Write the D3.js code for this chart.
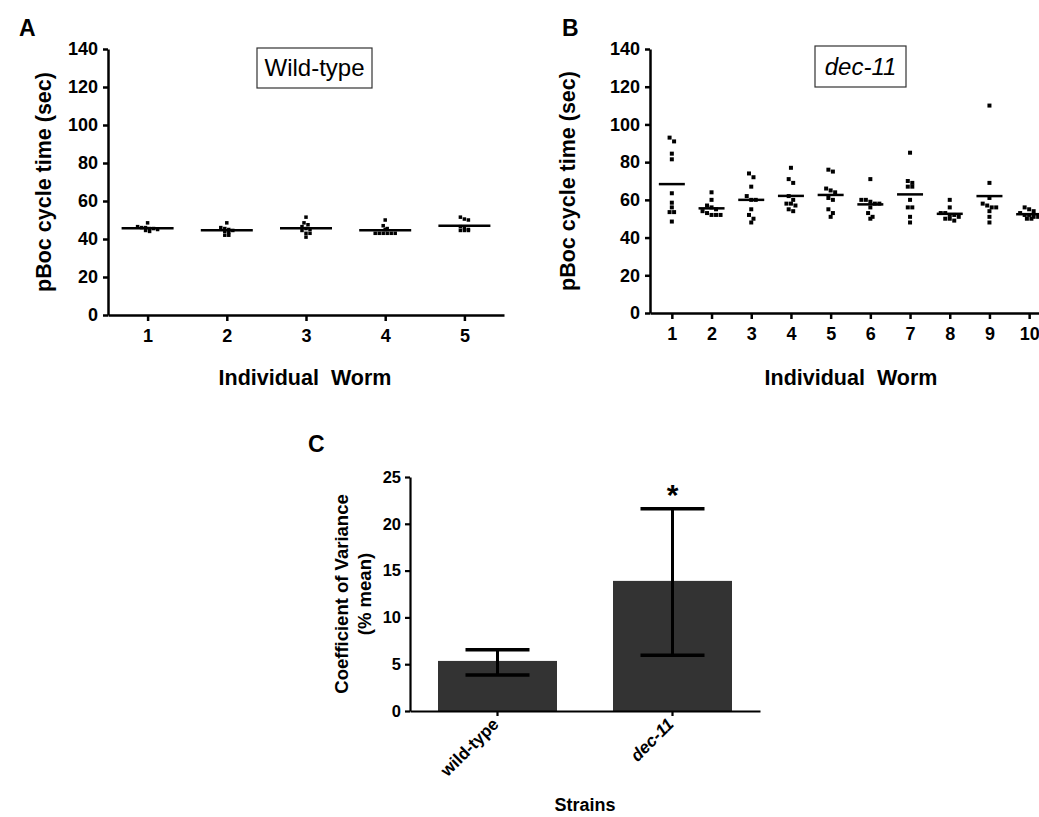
<!DOCTYPE html>
<html>
<head>
<meta charset="utf-8">
<script src="https://cdn.jsdelivr.net/npm/d3@7/dist/d3.min.js"></script>
<style>
  body { margin: 0; background: #fff; }
  svg { display: block; font-family: "Liberation Sans", Arial, sans-serif; }
  .axis path, .axis line { stroke: #000; stroke-width: 2.5; }
  .axis text { font-weight: bold; fill: #000; font-family: "Liberation Sans", Arial, sans-serif; }
</style>
</head>
<body>
<svg id="fig" width="1039" height="817"></svg>
<script>
// ---- data ----
const yTicksAB = [0, 20, 40, 60, 80, 100, 120, 140];
const wormsWT = [1, 2, 3, 4, 5];
const wildType = [
  [48.5, 46.5, 46, 46, 45.5, 45.5, 45, 44.5, 44],
  [48.5, 46, 45.5, 45, 44.5, 44, 43.5, 42, 42],
  [51.5, 48.5, 47.5, 46.5, 45.5, 45, 44.5, 43, 43, 41],
  [50, 47, 45.5, 45, 43, 43, 43, 43, 43, 43],
  [51.5, 50.5, 50, 46.5, 46, 45, 44.5, 44.5, 44.5]
];
const wormsDec = [1, 2, 3, 4, 5, 6, 7, 8, 9, 10];
const dec11 = [
  [93, 91, 84.5, 81.5, 63.5, 58.5, 56, 53.5, 53.5, 48.5],
  [64, 60, 57, 56, 55, 54, 53, 52, 52, 52],
  [74, 72, 67, 62, 60, 60, 55, 52, 50, 48],
  [77, 71, 69, 62, 60, 58, 58, 57, 55, 54],
  [76, 75, 66, 65, 64, 61, 60, 55, 53, 51],
  [71, 60, 60, 59, 58, 58, 56, 53, 51, 50],
  [85, 70, 69, 67, 67, 60, 56, 56, 51, 48],
  [60, 56, 53, 53, 52, 52, 51, 50, 49, 50],
  [110, 69, 61, 58, 57, 56, 56, 54, 51, 48],
  [56, 55, 54, 53, 52, 52, 51, 51, 50, 50]
];

const strains = ["wild-type", "dec-11"];
const cvMean = [5.35, 13.9];
const cvLow = [3.85, 5.95];
const cvHigh = [6.55, 21.6];
const yTicksC = [0, 5, 10, 15, 20, 25];

const svg = d3.select("#fig");

// spread points of similar value into centred rows (like a column scatter)
function swarm(values, y, size, gap) {
  const pts = values.map(v => ({ v: v, py: y(v) })).sort((a, b) => a.py - b.py);
  const rows = [];
  pts.forEach(p => {
    const row = rows[rows.length - 1];
    if (row && p.py - row[0].py < size) row.push(p);
    else rows.push([p]);
  });
  rows.forEach(row => row.forEach((p, j) => { p.dx = (j - (row.length - 1) / 2) * gap; }));
  return pts;
}

function scatterPanel(o) {
  const x = d3.scaleLinear().domain(o.xDomain).range(o.xRange);
  const y = d3.scaleLinear().domain([0, 140]).range(o.yRange);
  const g = svg.append("g");

  g.append("g").attr("class", "axis")
    .attr("transform", "translate(0," + o.yRange[0] + ")")
    .call(d3.axisBottom(x).tickValues(o.worms).tickFormat(d3.format("d")).tickSize(6).tickSizeOuter(0).tickPadding(8))
    .selectAll("text").style("font-size", "18px");

  g.append("g").attr("class", "axis")
    .attr("transform", "translate(" + o.xRange[0] + ",0)")
    .call(d3.axisLeft(y).tickValues(yTicksAB).tickSize(5).tickSizeOuter(0).tickPadding(5))
    .selectAll("text").style("font-size", "18px");

  o.data.forEach((vals, i) => {
    const cx = x(o.worms[i]);
    const pts = swarm(vals, y, o.size, o.gap);
    g.selectAll(null).data(pts).enter().append("rect")
      .attr("x", d => cx + d.dx - o.size / 2)
      .attr("y", d => d.py - o.size / 2)
      .attr("width", o.size).attr("height", o.size)
      .attr("fill", "#000");
    const m = d3.mean(vals);
    g.append("line")
      .attr("x1", cx - o.meanW / 2).attr("x2", cx + o.meanW / 2)
      .attr("y1", y(m)).attr("y2", y(m))
      .attr("stroke", "#000").attr("stroke-width", 2.5);
  });

  g.append("text")
    .attr("transform", "translate(" + o.yLabelX + "," + (o.yRange[0] + o.yRange[1]) / 2 + ") rotate(-90)")
    .attr("text-anchor", "middle").attr("font-weight", "bold").attr("font-size", 21.5)
    .text("pBoc cycle time (sec)");

  g.append("text")
    .attr("x", o.xLabelX).attr("y", 385)
    .attr("text-anchor", "middle").attr("font-weight", "bold").attr("font-size", 21.5)
    .style("white-space", "pre")
    .text("Individual  Worm");

  g.append("text")
    .attr("x", o.letterX).attr("y", 36)
    .attr("font-weight", "bold").attr("font-size", 23)
    .text(o.letter);

  g.append("rect")
    .attr("x", o.box[0]).attr("y", o.box[1]).attr("width", o.box[2]).attr("height", o.box[3])
    .attr("fill", "none").attr("stroke", "#333").attr("stroke-width", 1.2);
  g.append("text")
    .attr("x", o.box[0] + o.box[2] / 2).attr("y", o.box[1] + o.box[3] / 2 + 8)
    .attr("text-anchor", "middle").attr("font-size", 24)
    .style("font-style", o.italic ? "italic" : "normal")
    .text(o.title);
}

scatterPanel({
  worms: wormsWT, data: wildType,
  xDomain: [0.5, 5.5], xRange: [108, 504], yRange: [315, 49],
  size: 3.5, gap: 4, meanW: 52,
  yLabelX: 51, xLabelX: 305, letter: "A", letterX: 19,
  box: [257, 48, 115, 40], title: "Wild-type", italic: false
});

scatterPanel({
  worms: wormsDec, data: dec11,
  xDomain: [0.45, 10.5], xRange: [650, 1049], yRange: [313, 49],
  size: 4, gap: 4.5, meanW: 26,
  yLabelX: 575, xLabelX: 851, letter: "B", letterX: 562,
  box: [815, 46, 91, 41], title: "dec-11", italic: true
});

// ---- panel C ----
const xC = d3.scaleBand().domain(strains).range([410, 760]).paddingInner(0.32).paddingOuter(0.16);
const yC = d3.scaleLinear().domain([0, 25]).range([711, 477]);
const gC = svg.append("g");

gC.selectAll(".bar").data(strains).enter().append("rect")
  .attr("x", d => xC(d)).attr("width", xC.bandwidth())
  .attr("y", (d, i) => yC(cvMean[i])).attr("height", (d, i) => yC(0) - yC(cvMean[i]))
  .attr("fill", "#333333");

const capW = 64;
strains.forEach((s, i) => {
  const cx = xC(s) + xC.bandwidth() / 2;
  gC.append("line").attr("x1", cx).attr("x2", cx).attr("y1", yC(cvLow[i])).attr("y2", yC(cvHigh[i]))
    .attr("stroke", "#000").attr("stroke-width", 3);
  [cvLow[i], cvHigh[i]].forEach(v => {
    gC.append("line").attr("x1", cx - capW / 2).attr("x2", cx + capW / 2).attr("y1", yC(v)).attr("y2", yC(v))
      .attr("stroke", "#000").attr("stroke-width", 3.5);
  });
});

gC.append("text")
  .attr("x", xC("dec-11") + xC.bandwidth() / 2).attr("y", yC(cvHigh[1]) - 4)
  .attr("text-anchor", "middle").attr("font-weight", "bold").attr("font-size", 30)
  .text("*");

gC.append("g").attr("class", "axis")
  .attr("transform", "translate(410,0)")
  .call(d3.axisLeft(yC).tickValues(yTicksC).tickSize(5).tickSizeOuter(0).tickPadding(4))
  .call(a => a.selectAll("path, line").style("stroke-width", 2.2))
  .selectAll("text").style("font-size", "16.5px");

const xAxisC = gC.append("g").attr("class", "axis")
  .attr("transform", "translate(0,711)")
  .call(d3.axisBottom(xC).tickSize(5).tickSizeOuter(0))
  .call(a => a.selectAll("path, line").style("stroke-width", 2.2));
xAxisC.selectAll("text")
  .style("font-size", "17px")
  .style("font-style", d => d === "dec-11" ? "italic" : "normal")
  .attr("text-anchor", "end")
  .attr("dy", "0.35em")
  .attr("transform", "translate(-2,10) rotate(-45)")
  .attr("y", 0).attr("x", 0);

gC.append("text")
  .attr("transform", "translate(348,594) rotate(-90)")
  .attr("text-anchor", "middle").attr("font-weight", "bold").attr("font-size", 18.5)
  .text("Coefficient of Variance");
gC.append("text")
  .attr("transform", "translate(371,594) rotate(-90)")
  .attr("text-anchor", "middle").attr("font-weight", "bold").attr("font-size", 18.5)
  .text("(% mean)");

gC.append("text")
  .attr("x", 585).attr("y", 811)
  .attr("text-anchor", "middle").attr("font-weight", "bold").attr("font-size", 18)
  .text("Strains");

gC.append("text")
  .attr("x", 308).attr("y", 452)
  .attr("font-weight", "bold").attr("font-size", 23)
  .text("C");
</script>
</body>
</html>
